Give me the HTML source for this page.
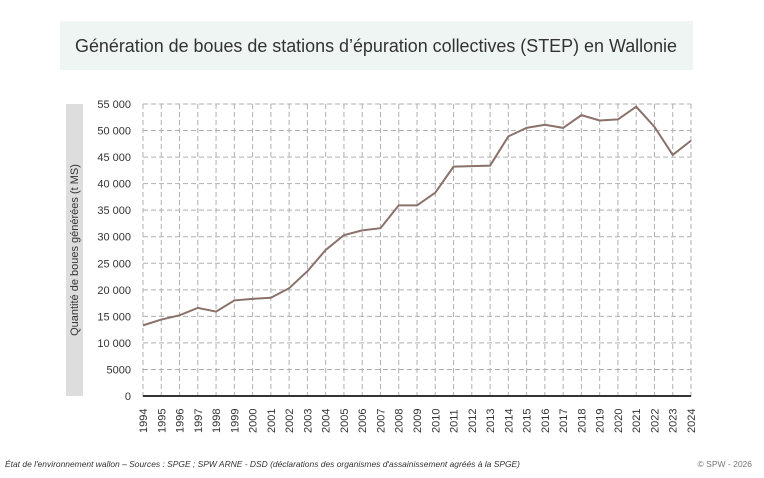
<!DOCTYPE html>
<html><head><meta charset="utf-8"><style>
body{margin:0;background:#fff;width:764px;height:478px;overflow:hidden}
svg{display:block;font-family:"Liberation Sans",sans-serif}
</style></head><body>
<svg width="764" height="478" xmlns="http://www.w3.org/2000/svg">
<rect x="60" y="21" width="633" height="49" fill="#eff5f2"/>
<text x="376" y="52" font-size="18" fill="#333" text-anchor="middle" textLength="602" lengthAdjust="spacingAndGlyphs">Génération de boues de stations d’épuration collectives (STEP) en Wallonie</text>
<rect x="66" y="104" width="17" height="292" fill="#dddddd"/>
<text transform="translate(78,250) rotate(-90)" font-size="11" fill="#333" text-anchor="middle">Quantité de boues générées (t MS)</text>
<g id="grid" stroke="#b0b0b0" stroke-width="1" stroke-dasharray="5,3" fill="none"></g>
<g id="ylab" font-size="11" fill="#333" text-anchor="end"></g>
<g id="xlab" font-size="11" fill="#333"></g>
<line x1="143" y1="396" x2="691" y2="396" stroke="#333" stroke-width="2"/>
<polyline id="ser" fill="none" stroke="#8a716a" stroke-width="2"/>
<text x="5" y="467" font-size="8.5" font-style="italic" fill="#333" textLength="515" lengthAdjust="spacingAndGlyphs">État de l'environnement wallon – Sources : SPGE ; SPW ARNE - DSD (déclarations des organismes d'assainissement agréés à la SPGE)</text>
<text x="752" y="467" font-size="8.5" fill="#777" text-anchor="end">© SPW - 2026</text>
</svg>
<script>
var ns="http://www.w3.org/2000/svg";
var x0=143,x1=691,y0=396,yt=104;
function X(i){return x0+i*(x1-x0)/30}
function Y(v){return y0-v*(y0-yt)/55000}
var g=document.getElementById("grid"),yl=document.getElementById("ylab"),xl=document.getElementById("xlab");
for(var v=0;v<=55000;v+=5000){
 if(v>0){var l=document.createElementNS(ns,"line");l.setAttribute("x1",x0);l.setAttribute("x2",x1);l.setAttribute("y1",Y(v));l.setAttribute("y2",Y(v));g.appendChild(l);}
 var t=document.createElementNS(ns,"text");t.setAttribute("x",131);t.setAttribute("y",Y(v)+4);
 var s=v>=10000?(Math.floor(v/1000)+" 000"):String(v);t.textContent=s;yl.appendChild(t);
}
for(var i=0;i<=30;i++){
 var l=document.createElementNS(ns,"line");l.setAttribute("x1",X(i));l.setAttribute("x2",X(i));l.setAttribute("y1",yt);l.setAttribute("y2",y0+4);g.appendChild(l);
 var t=document.createElementNS(ns,"text");t.setAttribute("transform","translate("+(X(i)+4)+",433) rotate(-90)");t.textContent=1994+i;xl.appendChild(t);
}
var d=[13300,14400,15200,16600,15900,18000,18300,18500,20300,23500,27500,30300,31200,31600,35900,35900,38300,43200,43300,43400,48900,50500,51100,50500,52900,51900,52100,54500,50700,45400,48100];
document.getElementById("ser").setAttribute("points",d.map(function(v,i){return X(i)+","+Y(v)}).join(" "));
</script>
</body></html>
